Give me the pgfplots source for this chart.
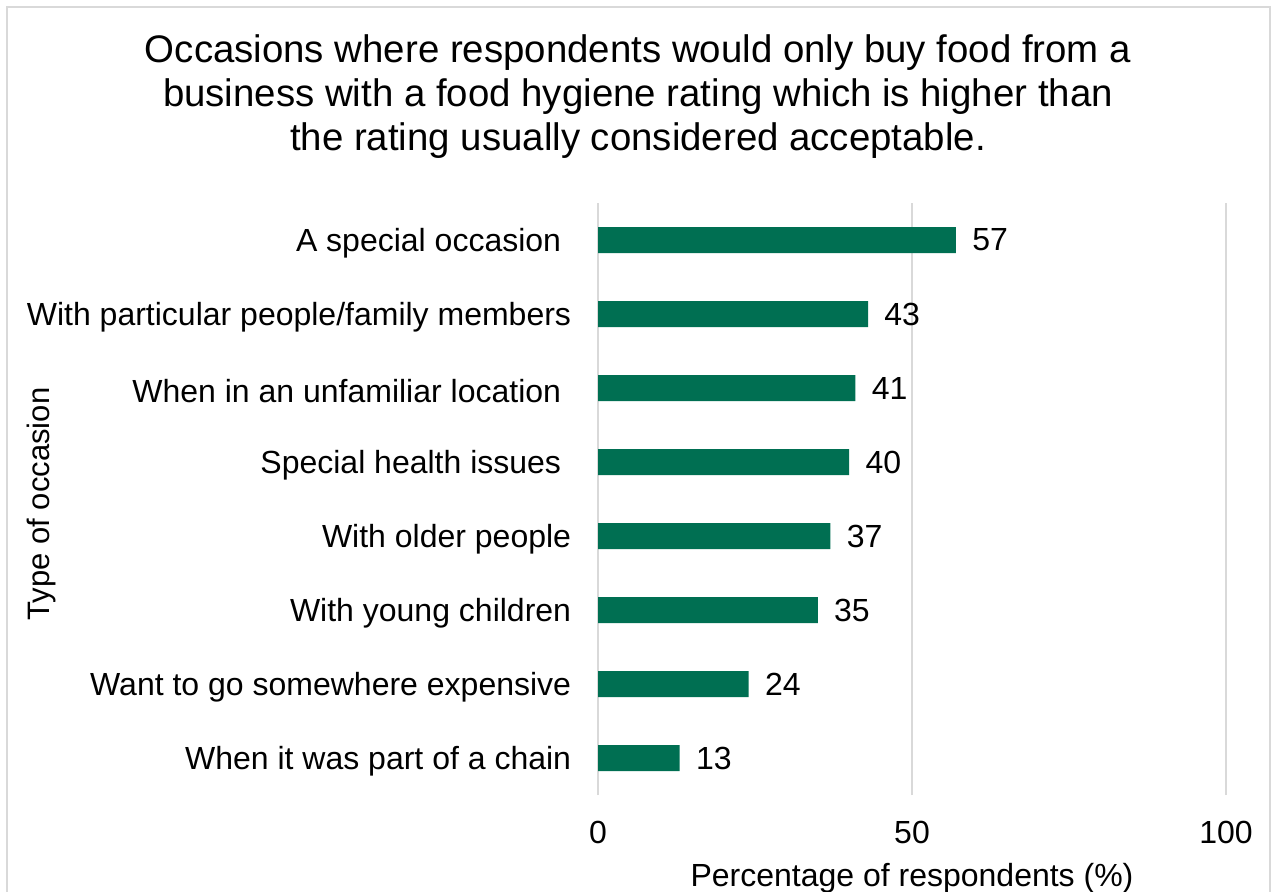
\documentclass[border=0pt]{standalone}
\usepackage{pgfplots}
\pgfplotsset{compat=1.18}
\usepackage{fontspec}
\setmainfont{Liberation Sans}
\definecolor{bargreen}{RGB}{0,111,82}
\definecolor{gridgray}{RGB}{217,217,217}
\definecolor{framegray}{RGB}{217,217,217}
\begin{document}
\begin{tikzpicture}
\useasboundingbox (0,0) rectangle (636pt,-446pt);
\draw[framegray, line width=1pt] (3.5pt,-3.75pt) rectangle (635pt,-470pt);
\node[align=center, font=\fontsize{19.2}{22}\selectfont] at (319pt,-48.5pt)
 {Occasions where respondents would only buy food from a\\business with a food hygiene rating which is higher than\\the rating usually considered acceptable.};
\node[rotate=90, font=\fontsize{15.5}{19}\selectfont] at (20.5pt,-252pt) {Type of occasion};
\node[font=\fontsize{16}{19}\selectfont] at (456pt,-439pt) {Percentage of respondents (\%)};
\begin{axis}[
 at={(299pt,-397.5pt)}, anchor=south west,
 width=314pt, height=296pt, scale only axis,
 xmin=0, xmax=100, ymin=-0.5, ymax=7.5,
 xtick={0,50,100},
 ytick={0,...,7},
 yticklabels={When it was part of a chain, Want to go somewhere expensive, With young children, With older people, Special health issues\hspace*{5pt}, When in an unfamiliar location\hspace*{5pt}, With particular people/family members, A special occasion\hspace*{5pt}},
 axis line style={draw=none},
 major tick style={draw=none},
 xmajorgrids, grid style={color=gridgray, line width=1pt},
 ticklabel style={font=\fontsize{16}{19}\selectfont},
 /pgf/number format/assume math mode=true,
 yticklabel style={anchor=east, inner sep=0pt, xshift=-9pt, yshift=-1.5pt},
 xticklabel style={anchor=center, inner sep=0pt, yshift=-18.5pt},
 xbar, bar width=13pt,
 nodes near coords,
 every node near coord/.append style={anchor=west, inner sep=0pt, xshift=8pt, font=\fontsize{16}{19}\selectfont, text=black},
]
\addplot[fill=bargreen, draw=none] coordinates {(13,0) (24,1) (35,2) (37,3) (40,4) (41,5) (43,6) (57,7)};
\end{axis}
\end{tikzpicture}
\end{document}
